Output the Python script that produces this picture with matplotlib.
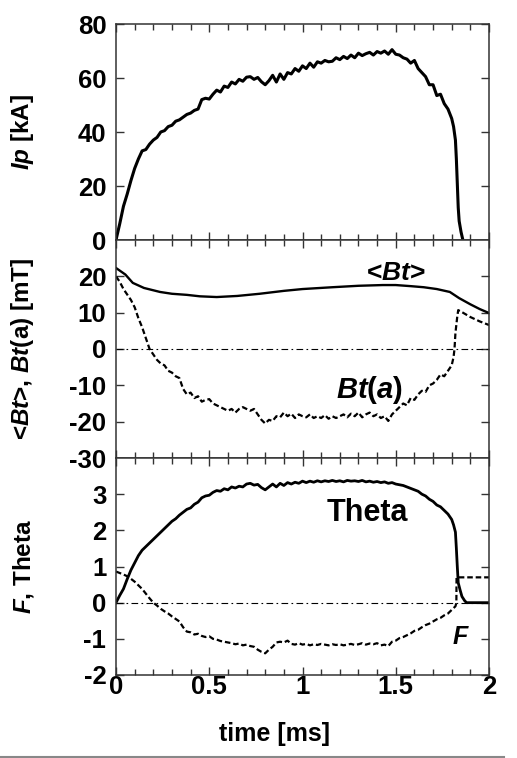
import numpy as np
import matplotlib
matplotlib.use("Agg")
import matplotlib.pyplot as plt
from matplotlib.lines import Line2D
from matplotlib.ticker import MultipleLocator

plt.rcParams["font.family"] = ["Liberation Sans", "DejaVu Sans"]
plt.rcParams["font.weight"] = "bold"
plt.rcParams["axes.unicode_minus"] = False
plt.rcParams["mathtext.fontset"] = "custom"
plt.rcParams["mathtext.it"] = "Liberation Sans:italic:bold"
plt.rcParams["mathtext.rm"] = "Liberation Sans:bold"
plt.rcParams["mathtext.bf"] = "Liberation Sans:bold"

# common sampling grid for the noisy traces (ms)
t_grid = np.round(np.arange(0, 1.81, 0.02), 2)

# plasma current Ip [kA]
ip_vals = [0, 6, 12.5, 17, 22, 26.5, 30, 33, 33.5, 35.5,
           37, 38, 40, 40.5, 42, 42.5, 44, 44.5, 45.5, 46.5,
           47, 48, 48.5, 52, 52.5, 52.2, 54, 55.5, 54.8, 57,
           56.5, 58.5, 57.8, 59.5, 58.8, 60.3, 60.5, 59.5, 60.2, 58.6,
           57.5, 59, 61, 58.5, 61.5, 59.5, 62, 61.5, 63.5, 62.5,
           64.5, 63.5, 65.5, 64, 66, 65.5, 66.5, 66, 66.2, 67.5,
           66.8, 68, 67.2, 68.5, 67.5, 69.2, 68.3, 69, 69.5, 68.5,
           69.8, 69.2, 70, 68.8, 70.5, 68.8, 68.5, 67.5, 67, 65.5,
           66.5, 63.5, 62, 60.5, 57.5, 57.5, 53.5, 54, 50.5, 48.5, 45]
ip_tail_t = [1.81, 1.82, 1.825, 1.83, 1.835, 1.84, 1.85, 1.86]
ip_tail = [42, 37, 30, 21, 12, 7, 3, 0]

# average toroidal field <Bt> [mT]
bt_avg_t = [0, 0.05, 0.09, 0.15, 0.236, 0.3, 0.38, 0.45, 0.54, 0.65, 0.77, 0.9,
            1.0, 1.16, 1.3, 1.43, 1.5, 1.58, 1.65, 1.72, 1.79, 1.84, 1.9, 1.95, 2.0]
bt_avg = [22.3, 20.5, 18.2, 16.8, 15.7, 15.2, 14.9, 14.5, 14.3, 14.6, 15.2, 16,
          16.5, 17, 17.4, 17.6, 17.6, 17.3, 17, 16.5, 15.7, 14, 12.3, 11, 9.9]

# wall toroidal field Bt(a) [mT]
bt_wall_vals = [20, 18.5, 16.5, 15, 13.5, 11.5, 8.5, 6, 3, 0,
                -1.5, -3, -4, -4.5, -6, -6.5, -7.5, -8, -11, -12.5,
                -12, -13.5, -13, -14.5, -14, -13.8, -15, -15.5, -16, -16.5,
                -17, -16.5, -17.5, -16.5, -16, -16.5, -17, -16.5, -18, -19.5,
                -20.5, -19.5, -19.8, -18.5, -18.8, -17.5, -18.5, -17.8, -19, -18,
                -18.5, -18.8, -18, -19, -18.5, -19, -18.2, -19.2, -18.5, -19,
                -18.5, -18, -18.8, -17.8, -18.5, -17.5, -18.8, -18, -17.5, -18.5,
                -18, -19, -18.5, -19.8, -18, -17, -16, -15, -15.5, -13.5,
                -14, -12.5, -11.5, -11.8, -10, -9.5, -8.5, -7, -7.5, -6, -4.5]
bt_wall_tail_t = [1.81, 1.815, 1.82, 1.83, 1.835, 1.86, 1.9, 1.95, 2.0]
bt_wall_tail = [-2.2, 0, 4.4, 9, 10.7, 10, 8.8, 7.6, 6.6]

# pinch parameter Theta
theta_vals = [0, 0.2, 0.38, 0.65, 0.9, 1.1, 1.3, 1.45, 1.55, 1.65,
              1.75, 1.85, 1.95, 2.05, 2.15, 2.25, 2.32, 2.42, 2.5, 2.58,
              2.62, 2.72, 2.78, 2.9, 2.95, 2.97, 3.05, 3.1, 3.08, 3.15,
              3.12, 3.2, 3.17, 3.22, 3.2, 3.28, 3.3, 3.25, 3.27, 3.18,
              3.12, 3.2, 3.28, 3.2, 3.3, 3.24, 3.32, 3.28, 3.33, 3.3,
              3.36, 3.32, 3.36, 3.33, 3.37, 3.34, 3.37, 3.35, 3.38, 3.35,
              3.37, 3.34, 3.38, 3.36, 3.37, 3.35, 3.38, 3.34, 3.36, 3.33,
              3.35, 3.32, 3.34, 3.3, 3.32, 3.28, 3.26, 3.24, 3.2, 3.16,
              3.12, 3.08, 3.0, 2.95, 2.86, 2.8, 2.7, 2.65, 2.55, 2.45, 2.3]
theta_tail_t = [1.81, 1.82, 1.825, 1.83, 1.835, 1.845, 1.855, 1.87, 1.88, 2.0]
theta_tail = [2.15, 1.95, 1.5, 1.0, 0.55, 0.35, 0.17, 0.05, 0, 0]

# reversal parameter F
f_vals = [0.86, 0.82, 0.78, 0.73, 0.66, 0.58, 0.48, 0.38, 0.25, 0.12,
          0, -0.08, -0.17, -0.24, -0.3, -0.38, -0.45, -0.52, -0.68, -0.8,
          -0.82, -0.88, -0.86, -0.92, -0.95, -0.93, -1.0, -1.02, -1.06, -1.08,
          -1.1, -1.12, -1.15, -1.13, -1.18, -1.16, -1.2, -1.22, -1.3, -1.36,
          -1.4, -1.3, -1.22, -1.1, -1.08, -1.1, -1.05, -1.14, -1.16, -1.12,
          -1.16, -1.14, -1.18, -1.15, -1.17, -1.14, -1.16, -1.18, -1.15, -1.17,
          -1.15, -1.18, -1.16, -1.14, -1.17, -1.15, -1.12, -1.16, -1.13, -1.15,
          -1.12, -1.18, -1.16, -1.2, -1.08, -1.05, -0.98, -0.95, -0.9, -0.85,
          -0.78, -0.75, -0.68, -0.62, -0.58, -0.52, -0.46, -0.42, -0.35, -0.3, -0.2]
f_tail_t = [1.82, 1.825, 1.826, 2.0]
f_tail = [-0.1, 0, 0.7, 0.7]

x_ticks = [0, 0.5, 1, 1.5, 2]
x_labels = ["0", "0.5", "1", "1.5", "2"]
ip_ticks = [0, 20, 40, 60, 80]
bt_ticks = [-30, -20, -10, 0, 10, 20]
f_ticks = [-2, -1, 0, 1, 2, 3]

W, H = 517, 758
fig = plt.figure(figsize=(W / 100, H / 100), dpi=100)
left = 116 / W
width = (489 - 116) / W


def panel(top_px, bot_px):
    return fig.add_axes([left, 1 - bot_px / H, width, (bot_px - top_px) / H])


ax1 = panel(24, 240)
ax2 = panel(240, 458)
ax3 = panel(458, 675)

spine_col = "#333333"
tick_fs = 18.5
for ax in (ax1, ax2, ax3):
    ax.set_xlim(0, 2)
    ax.set_xticks(x_ticks)
    ax.xaxis.set_minor_locator(MultipleLocator(0.1))
    ax.tick_params(axis="x", which="both", direction="in", top=True, bottom=True,
                   color=spine_col, width=1.0)
    ax.tick_params(axis="x", which="major", length=6)
    ax.tick_params(axis="x", which="minor", length=4)
    ax.tick_params(axis="y", direction="in", left=True, right=True, length=6,
                   color=spine_col, width=1.0, labelsize=tick_fs, pad=7)
    for s in ax.spines.values():
        s.set_color(spine_col)
        s.set_linewidth(1.1)

ax1.tick_params(axis="x", labelbottom=False)
ax2.tick_params(axis="x", labelbottom=False)
ax3.set_xticklabels(x_labels)
ax3.tick_params(axis="x", labelsize=tick_fs, pad=0)

# panel 1: Ip
t_ip = np.concatenate([t_grid, ip_tail_t])
ax1.plot(t_ip, ip_vals + ip_tail, color="black", lw=2.2)
ax1.set_ylim(0, 80)
ax1.set_yticks(ip_ticks)
ax1.set_ylabel("$Ip$ [kA]", fontsize=17.5, fontweight="bold")
ax1.yaxis.set_label_coords(-0.215, 0.5)

# panel 2: <Bt>, Bt(a)
ax2.axhline(0, color="black", lw=0.8, ls=(0, (6, 3, 1.5, 3)))
ax2.plot(bt_avg_t, bt_avg, color="black", lw=1.7)
t_bw = np.concatenate([t_grid, bt_wall_tail_t])
ax2.plot(t_bw, bt_wall_vals + bt_wall_tail, color="black", lw=1.6,
         ls=(0, (2.5, 1.3)))
ax2.set_ylim(-30, 30)
ax2.set_yticks(bt_ticks)
ax2.set_ylabel("<$Bt$>, $Bt$(a) [mT]", fontsize=17.5, fontweight="bold")
ax2.yaxis.set_label_coords(-0.215, 0.5)
ax2.text(1.50, 20.9, "<$Bt$>", fontsize=19, fontweight="bold",
         ha="center", va="center")
ax2.text(1.36, -11.3, "$Bt(a)$", fontsize=21, fontweight="bold",
         ha="center", va="center")

# panel 3: F, Theta
ax3.axhline(0, color="black", lw=0.8, ls=(0, (6, 3, 1.5, 3)))
t_th = np.concatenate([t_grid, theta_tail_t])
ax3.plot(t_th, theta_vals + theta_tail, color="black", lw=2.0)
t_f = np.concatenate([t_grid, f_tail_t])
ax3.plot(t_f, f_vals + f_tail, color="black", lw=1.6, ls=(0, (2.5, 1.3)))
ax3.set_ylim(-2, 4)
ax3.set_yticks(f_ticks)
ax3.set_ylabel("$F$, Theta", fontsize=17.5, fontweight="bold")
ax3.yaxis.set_label_coords(-0.215, 0.5)
ax3.set_xlabel("time [ms]", fontsize=18, fontweight="bold")
ax3.xaxis.set_label_coords(0.426, -0.215)
ax3.text(1.35, 2.49, "Theta", fontsize=22, fontweight="bold",
         ha="center", va="center")
ax3.text(1.85, -0.95, "$F$", fontsize=18, fontweight="bold",
         ha="center", va="center")

fig.add_artist(Line2D([0.0, 0.975], [1 - 756.5 / H, 1 - 756.5 / H],
                      transform=fig.transFigure, color="#888888", lw=1.5))

fig.savefig("out.png", dpi=100)
